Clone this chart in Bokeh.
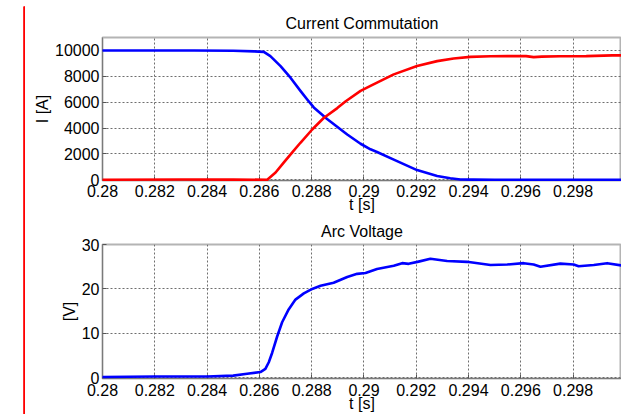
from bokeh.plotting import figure
from bokeh.layouts import column, row
from bokeh.models import Range1d, FixedTicker, PrintfTickFormatter, Spacer
from bokeh.embed import file_html
from bokeh.resources import INLINE

# ---- data ----
t_blue = [0.2800, 0.2820, 0.2835, 0.2850, 0.2858, 0.28617, 0.28642, 0.28681, 0.28719,
          0.28757, 0.28789, 0.28808, 0.28859, 0.28936, 0.28987, 0.29025, 0.29050, 0.29114,
          0.29203, 0.29280, 0.29330, 0.29369, 0.29420, 0.2950, 0.2970, 0.2990, 0.3000]
i_blue = [10000, 10000, 9990, 9970, 9930, 9885, 9555, 8789, 7893,
          6874, 6054, 5594, 4700, 3502, 2782, 2352, 2146, 1556,
          743, 284, 110, 23, 5, 0, 0, 0, 0]

t_red = [0.2800, 0.2830, 0.2850, 0.2863, 0.28662, 0.28693, 0.28725, 0.28757, 0.28802,
         0.28846, 0.28898, 0.28929, 0.28987, 0.29025, 0.29050, 0.29114, 0.29203, 0.29280,
         0.29343, 0.29407, 0.29484, 0.2955, 0.2962, 0.29649, 0.2968, 0.2975, 0.2985,
         0.2995, 0.3000]
i_red = [0, 20, 10, 0, 560, 1326, 2092, 2858, 3885,
         4774, 5540, 6054, 6874, 7257, 7510, 8146, 8789, 9172,
         9372, 9502, 9555, 9560, 9560, 9480, 9520, 9550, 9560,
         9620, 9620]

t_v = [0.2800, 0.2820, 0.2840, 0.2850, 0.28553, 0.28604, 0.28623, 0.28636, 0.28649,
       0.28668, 0.28687, 0.28712, 0.28738, 0.28770, 0.28802, 0.28834, 0.28884, 0.28936,
       0.28974, 0.29006, 0.29050, 0.29114, 0.29146, 0.29171, 0.29209, 0.29254, 0.29318,
       0.29394, 0.29484, 0.29548, 0.29611, 0.29649, 0.29675, 0.29751, 0.29802, 0.29821,
       0.29879, 0.29930, 0.29985]
v_arc = [0.2, 0.3, 0.3, 0.5, 0.93, 1.3, 2.0, 3.5, 5.65,
         9.3, 12.5, 15.4, 17.6, 19.0, 20.0, 20.7, 21.4, 22.7,
         23.4, 23.6, 24.5, 25.2, 25.8, 25.65, 26.15, 26.8, 26.3,
         26.1, 25.4, 25.5, 25.8, 25.5, 25.0, 25.7, 25.5, 25.1,
         25.4, 25.8, 25.3]

x_ticks = [0.28, 0.282, 0.284, 0.286, 0.288, 0.29, 0.292, 0.294, 0.296, 0.298, 0.3]
i_ticks = [0, 2000, 4000, 6000, 8000, 10000]
v_ticks = [0, 10, 20, 30]

title_top = "Current Commutation"
title_bottom = "Arc Voltage"
x_label = "t [s]"
y_label_top = "I [A]"
y_label_bottom = "[V]"

FONT = "Liberation Sans"
FS = "16px"


def make_fig(title, y_start, y_end, y_ticks, y_label, height, border_top,
             title_standoff, lbl_standoff, axlbl_standoff):
    p = figure(width=596, height=height, output_backend="svg", toolbar_location=None,
               x_range=Range1d(0.28, 0.29985), y_range=Range1d(y_start, y_end),
               min_border_left=77, min_border_right=0, min_border_top=border_top,
               min_border_bottom=0, title=title)
    p.title.text_font = FONT
    p.title.text_font_size = FS
    p.title.text_font_style = "normal"
    p.title.align = "center"
    p.title.standoff = title_standoff
    p.title.text_color = "black"
    p.background_fill_color = "white"
    p.border_fill_color = "white"
    p.outline_line_color = "#b4b4b4"
    p.outline_line_width = 2

    p.xaxis.ticker = FixedTicker(ticks=x_ticks)
    p.xaxis.formatter = PrintfTickFormatter(format="%g")
    p.yaxis.ticker = FixedTicker(ticks=y_ticks)
    p.xaxis.axis_label = x_label
    p.yaxis.axis_label = y_label
    for ax in (p.xaxis, p.yaxis):
        ax.axis_line_color = "#7a7a7a"
        ax.axis_line_width = 1
        ax.major_tick_in = 4
        ax.major_tick_out = 0
        ax.minor_tick_in = 0
        ax.minor_tick_out = 0
        ax.major_tick_line_color = "#555555"
        ax.major_label_text_font = FONT
        ax.major_label_text_font_size = FS
        ax.major_label_text_color = "black"
        ax.axis_label_text_font = FONT
        ax.axis_label_text_font_size = FS
        ax.axis_label_text_font_style = "normal"
        ax.axis_label_text_color = "black"
    p.xaxis.major_label_standoff = lbl_standoff
    p.xaxis.axis_label_standoff = axlbl_standoff
    p.yaxis.major_label_standoff = 3
    p.yaxis.axis_label_standoff = 1

    for g in (p.xgrid, p.ygrid):
        g.grid_line_color = "#6e6e6e"
        g.grid_line_dash = "2 2"
        g.grid_line_width = 1
    p.xgrid.ticker = FixedTicker(ticks=x_ticks)
    p.ygrid.ticker = FixedTicker(ticks=y_ticks)
    return p


def red_bar(w, h):
    f = figure(width=w, height=h, output_backend="svg", toolbar_location=None,
               title=None, min_border=0, x_axis_type=None, y_axis_type=None,
               x_range=Range1d(0, 1), y_range=Range1d(0, 1),
               background_fill_color="#ff0000", border_fill_color="#ff0000",
               outline_line_color=None)
    f.grid.visible = False
    f.quad(left=[0], right=[1], bottom=[0], top=[1],
           fill_color="#ff0000", line_color="#ff0000", line_width=2)
    return f


p1 = make_fig(title_top, -60, 11000, i_ticks, y_label_top, 209, 30, 12, 4, -4)
p1.line(t_blue, i_blue, line_color="#0000ff", line_width=2.6, line_join="round", level="overlay")
p1.line(t_red, i_red, line_color="#ff0000", line_width=2.6, line_join="round", level="overlay")

p2 = make_fig(title_bottom, -0.15, 30, v_ticks, y_label_bottom, 199, 26, 10, 5, -4)
p2.line(t_v, v_arc, line_color="#0000ff", line_width=2.6, line_join="round", level="overlay")

layout = column(Spacer(width=10, height=4, margin=0),
                row(Spacer(width=23, height=10, margin=0),
                    column(red_bar(598, 2),
                           row(red_bar(2, 408), column(p1, p2, spacing=0), spacing=0),
                           spacing=0),
                    spacing=0),
                spacing=0)

open("out.html", "w").write(file_html(layout, INLINE))
